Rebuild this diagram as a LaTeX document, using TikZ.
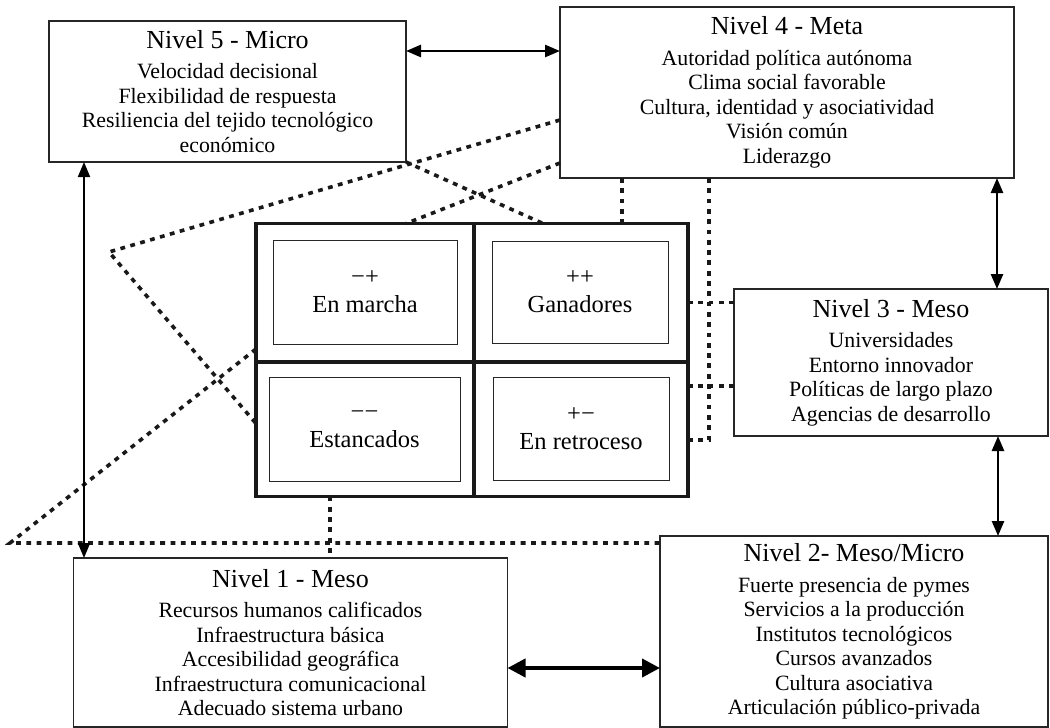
\documentclass[tikz,border=0pt]{standalone}
\usepackage{fontspec}
\setmainfont{Liberation Serif}
\usetikzlibrary{arrows.meta}
\tikzstyle{box} = [draw=black!85, line width=1.1pt, inner sep=0pt, outer sep=0pt,
anchor=north west, align=center, font=\fontsize{21.8}{24.5}\selectfont]
\tikzstyle{cell} = [draw=black!90, line width=3.2pt, inner sep=0pt, outer sep=0pt,
anchor=north west]
\tikzstyle{card} = [draw=black!85, line width=1pt, inner sep=0pt, outer sep=0pt,
anchor=north west, align=center, font=\fontsize{24.5}{28}\selectfont]
\tikzstyle{dotline} = [line width=3.6pt, dash pattern=on 4.8pt off 5.5pt, black!90]
\tikzstyle{link} = [line width=2.6pt,
{Triangle[length=15pt,width=12pt]}-{Triangle[length=15pt,width=12pt]}]
\tikzstyle{thinlink} = [line width=1.8pt,
{Triangle[length=15pt,width=12pt]}-{Triangle[length=15pt,width=12pt]}]
\tikzstyle{biglink} = [line width=4pt,
{Triangle[length=18pt,width=18pt]}-{Triangle[length=18pt,width=18pt]}]
\newcommand{\lvltitle}[1]{{\fontsize{26}{30}\selectfont #1}\\[6pt]}

\begin{document}
\begin{tikzpicture}[x=1pt, y=-1pt]
\useasboundingbox (0,0) rectangle (1050,728);
% level boxes
\node[box, minimum width=357pt, minimum height=141pt] (n5) at (49,21)
{\lvltitle{Nivel 5 - Micro}Velocidad decisional\\Flexibilidad de respuesta\\
Resiliencia del tejido tecnológico\\económico};
\node[box, minimum width=454pt, minimum height=171pt] (n4) at (560,7)
{\lvltitle{Nivel 4 - Meta}Autoridad política autónoma\\Clima social favorable\\
Cultura, identidad y asociatividad\\Visión común\\Liderazgo};
\node[box, minimum width=314pt, minimum height=147pt] (n3) at (734,289)
{\lvltitle{Nivel 3 - Meso}Universidades\\Entorno innovador\\
Políticas de largo plazo\\Agencias de desarrollo};
\node[box, minimum width=388pt, minimum height=191pt] (n2) at (660,536)
{\lvltitle{Nivel 2- Meso/Micro}Fuerte presencia de pymes\\Servicios a la producción\\
Institutos tecnológicos\\Cursos avanzados\\Cultura asociativa\\
Articulación público-privada};
\node[box, minimum width=434pt, minimum height=169pt] (n1) at (73.5,558)
{\lvltitle{Nivel 1 - Meso}Recursos humanos calificados\\Infraestructura básica\\
Accesibilidad geográfica\\Infraestructura comunicacional\\Adecuado sistema urbano};
% central grid
\node[cell, minimum width=218pt, minimum height=138.5pt] (gTL) at (256,223.5) {};
\node[cell, minimum width=214pt, minimum height=138.5pt] (gTR) at (474,223.5) {};
\node[cell, minimum width=218pt, minimum height=134.5pt] (gBL) at (256,362) {};
\node[cell, minimum width=214pt, minimum height=134.5pt] (gBR) at (474,362) {};
\node[card, minimum width=184pt, minimum height=104pt] (cM) at (273,240) {−+\\En marcha};
\node[card, minimum width=176pt, minimum height=102pt] (cG) at (492,241) {++\\Ganadores};
\node[card, minimum width=191pt, minimum height=104pt] (cE) at (269,377) {−−\\Estancados};
\node[card, minimum width=176pt, minimum height=103pt] (cR) at (493,377) {+−\\En retroceso};
\coordinate (v) at (109,252);
\coordinate (c) at (10,543);
% dotted lines
\draw[dotline] ([yshift=58pt]n4.south west) -- (v) -- ([yshift=73pt]gBL.south west);
\draw[dotline] ([yshift=15pt]n4.south west) -- ([xshift=150pt]gTL.north west);
\draw[dotline] (n5.south east) -- ([xshift=69pt]gTR.north west);
\draw[dotline] ([yshift=13pt]gBL.north west) -- (c) -- ([yshift=-7pt]n2.north west);
\draw[dotline] ([xshift=74pt]gBL.south west) -- ([xshift=256.5pt]n1.north west);
\draw[dotline] ([xshift=62pt]n4.south west) -- ([xshift=148pt]gTR.north west);
\draw[dotline] ([xshift=149pt]n4.south west) |- ([yshift=56.5pt]gBR.south east);
\draw[dotline] ([yshift=-79pt]gTR.north east) -- ([yshift=-13.5pt]n3.north west);
\draw[dotline] ([yshift=-24pt]gBR.north east) -- ([yshift=-97pt]n3.north west);
% arrows
\draw[link] ([yshift=-30pt]n5.north east) -- ([yshift=-44pt]n4.north west);
\draw[link] ([xshift=437pt]n4.south west) -- ([xshift=263pt]n3.north west);
\draw[link] ([xshift=264pt]n3.south west) -- ([xshift=338pt]n2.north west);
\draw[biglink] ([yshift=-110pt]n1.north east) -- ([yshift=-132pt]n2.north west);
\draw[thinlink] ([xshift=35pt]n5.south west) -- ([xshift=10.5pt]n1.north west);
\end{tikzpicture}
\end{document}
